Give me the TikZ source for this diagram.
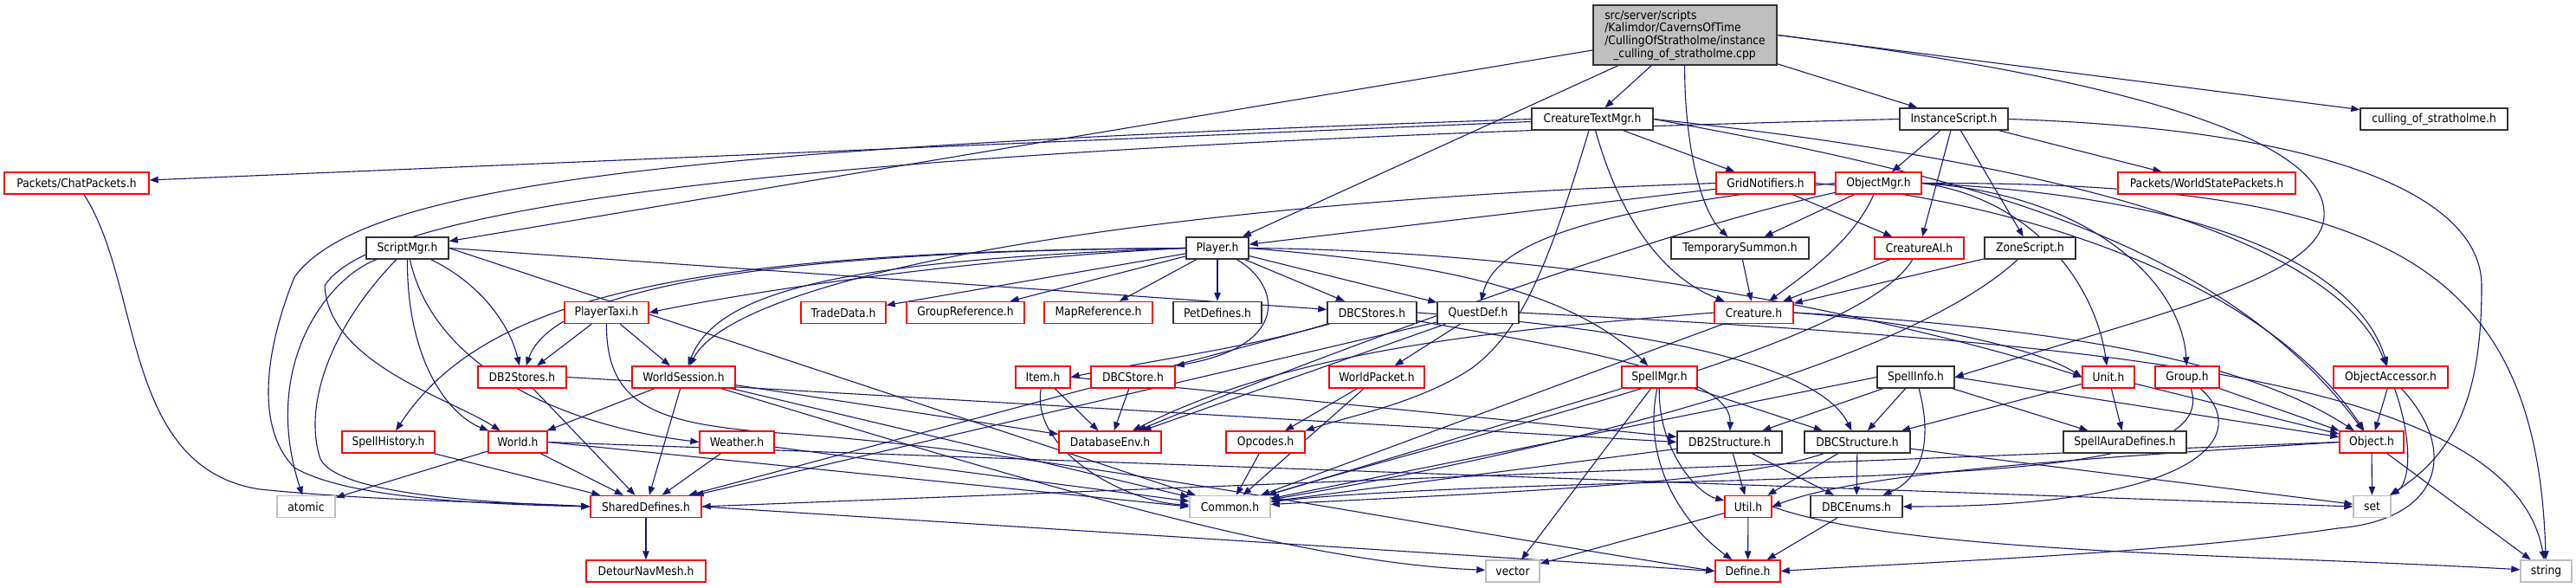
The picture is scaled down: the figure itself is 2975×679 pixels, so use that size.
\documentclass[tikz,border=0pt]{standalone}
\usepackage{fontspec}
\setmainfont{DejaVu Sans}[FakeStretch=0.9]
\usetikzlibrary{arrows.meta}
\pgfdeclarelayer{back}
\pgfdeclarelayer{bg}
\pgfsetlayers{back,bg,main}
\definecolor{edgec}{HTML}{191970}
\definecolor{redb}{HTML}{FF0000}
\definecolor{grayb}{HTML}{BFBFBF}
\definecolor{mainfill}{HTML}{BFBFBF}
\tikzset{
 nd/.style={rectangle, draw=black!80, line width=1.4pt, minimum height=25pt, inner sep=0pt, fill=white, text=black, font=\fontsize{13.7}{14.7}\selectfont},
 rd/.style={nd, draw=redb},
 gy/.style={nd, draw=grayb},
 e/.style={draw=edgec, line width=1.1pt, -{Triangle[length=10pt,width=7.5pt]}},
}
\begin{document}
\begin{tikzpicture}[x=1pt,y=-1pt]
\useasboundingbox (0,0) rectangle (2975,679);
\begin{pgfonlayer}{back}
\fill[white] (0,0) rectangle (2975,679);
\end{pgfonlayer}
% row 0
\node[nd, fill=mainfill, minimum width=212pt, minimum height=69pt, align=left] (main) at (1946,40.5) {src/server/scripts\\/Kalimdor/CavernsOfTime\\/CullingOfStratholme/instance\\\hspace*{10pt}\_culling\_of\_stratholme.cpp};
% row 1
\node[nd, minimum width=140pt] (ctm) at (1839,137.5) {CreatureTextMgr.h};
\node[nd, minimum width=125pt] (inst) at (2256.5,137.5) {InstanceScript.h};
\node[nd, minimum width=170pt] (cull) at (2811,137.5) {culling\_of\_stratholme.h};
% row 2
\node[rd, minimum width=167pt] (chat) at (88.5,211.5) {Packets/ChatPackets.h};
\node[rd, minimum width=114pt] (grid) at (2039,211.5) {GridNotifiers.h};
\node[rd, minimum width=99pt] (omgr) at (2169.5,211.5) {ObjectMgr.h};
\node[rd, minimum width=205pt] (wsp) at (2548.5,211.5) {Packets/WorldStatePackets.h};
% row 3
\node[nd, minimum width=95pt] (smgr) at (470.5,286.5) {ScriptMgr.h};
\node[nd, minimum width=72pt] (player) at (1406,286.5) {Player.h};
\node[nd, minimum width=159pt] (tsum) at (2009.5,286.5) {TemporarySummon.h};
\node[rd, minimum width=103pt] (cai) at (2216.5,286.5) {CreatureAI.h};
\node[nd, minimum width=105pt] (zone) at (2344.5,286.5) {ZoneScript.h};
% row 4
\node[rd, minimum width=97pt] (ptaxi) at (700.5,361) {PlayerTaxi.h};
\node[rd, minimum width=98pt] (trade) at (974,361) {TradeData.h};
\node[rd, minimum width=136pt] (gref) at (1115,361) {GroupReference.h};
\node[rd, minimum width=125pt] (mref) at (1268.5,361) {MapReference.h};
\node[nd, minimum width=102pt] (pet) at (1406,361) {PetDefines.h};
\node[nd, minimum width=103pt] (dbcs) at (1584.5,361) {DBCStores.h};
\node[nd, minimum width=94pt] (quest) at (1707,361) {QuestDef.h};
\node[rd, minimum width=91pt] (creat) at (2025.5,361) {Creature.h};
% row 5
\node[rd, minimum width=102pt] (db2s) at (603,435.5) {DB2Stores.h};
\node[rd, minimum width=119pt] (wses) at (789.5,435.5) {WorldSession.h};
\node[rd, minimum width=63pt] (item) at (1204.5,435.5) {Item.h};
\node[rd, minimum width=97pt] (dbcstore) at (1308.5,435.5) {DBCStore.h};
\node[rd, minimum width=110pt] (wpkt) at (1590,435.5) {WorldPacket.h};
\node[rd, minimum width=87pt] (smgr2) at (1916.5,435.5) {SpellMgr.h};
\node[nd, minimum width=89pt] (sinfo) at (2212.5,435.5) {SpellInfo.h};
\node[rd, minimum width=60pt] (unit) at (2435,435.5) {Unit.h};
\node[rd, minimum width=74pt] (group) at (2526,435.5) {Group.h};
\node[rd, minimum width=132pt] (oacc) at (2761,435.5) {ObjectAccessor.h};
% row 6
\node[rd, minimum width=107pt] (shist) at (448.5,510.5) {SpellHistory.h};
\node[rd, minimum width=68pt] (world) at (598,510.5) {World.h};
\node[rd, minimum width=86pt] (weather) at (851,510.5) {Weather.h};
\node[rd, minimum width=118pt] (dbenv) at (1282,510.5) {DatabaseEnv.h};
\node[rd, minimum width=91pt] (opc) at (1461.5,510.5) {Opcodes.h};
\node[nd, minimum width=121pt] (db2st) at (1997.5,510.5) {DB2Structure.h};
\node[nd, minimum width=122pt] (dbcst) at (2145,510.5) {DBCStructure.h};
\node[nd, minimum width=142pt] (sad) at (2454,510.5) {SpellAuraDefines.h};
\node[rd, minimum width=74pt] (obj) at (2739,510.5) {Object.h};
% row 7
\node[gy, minimum width=67pt] (atomic) at (353.5,585) {atomic};
\node[rd, minimum width=128pt] (shared) at (746,585) {SharedDefines.h};
\node[gy, minimum width=93pt] (common) at (1420.5,585) {Common.h};
\node[rd, minimum width=54pt] (util) at (2019,585) {Util.h};
\node[nd, minimum width=106pt] (dbce) at (2144,585) {DBCEnums.h};
\node[gy, minimum width=43pt] (set) at (2739.5,585) {set};
% row 8
\node[rd, minimum width=138pt] (detour) at (746,659.5) {DetourNavMesh.h};
\node[gy, minimum width=62pt] (vector) at (1747,659.5) {vector};
\node[rd, minimum width=75pt] (define) at (2018.5,659.5) {Define.h};
\node[gy, minimum width=59pt] (string) at (2940.5,659.5) {string};

\begin{pgfonlayer}{bg}
% main
\draw[e] (main) -- (smgr);
\draw[e] (main) -- (player);
\draw[e] (main) -- (ctm);
\draw[e] (main) .. controls (1945,150) and (1960,240) .. (tsum);
\draw[e] (main) -- (inst);
\draw[e] (main.east) -- (cull);
\draw[e] (main.east) .. controls (2450,90) and (2690,160) .. (2684,250) .. controls (2680,320) and (2500,360) .. (sinfo.east);
% CreatureTextMgr
\draw[e] (ctm) -- (chat);
\draw[e] (ctm.west) .. controls (800,170) and (420,210) .. (340,320) .. controls (300,420) and (300,500) .. (340,540) .. controls (400,575) and (550,582) .. (shared.west);
\draw[e] (ctm) -- (grid);
\draw[e] (ctm) .. controls (1870,250) and (1920,320) .. (creat);
\draw[e] (ctm) .. controls (1790,300) and (1760,380) .. (1700,425) .. controls (1640,465) and (1560,480) .. (opc.north east);
\draw[e] (ctm.east) .. controls (2400,190) and (2700,280) .. (oacc);
\draw[e] (ctm.east) .. controls (2250,200) and (2560,270) .. (obj);
% InstanceScript
\draw[e] (inst) -- (omgr);
\draw[e] (inst) -- (cai);
\draw[e] (inst) -- (zone);
\draw[e] (inst) -- (wsp);
\draw[e] (inst.east) .. controls (2700,150) and (2866,230) .. (2866,330) .. controls (2866,450) and (2840,520) .. (set);
\draw[e] (inst.west) .. controls (900,170) and (430,240) .. (375,330) .. controls (380,420) and (520,460) .. (world);
% GridNotifiers
\draw[e] (grid) -- (player);
\draw[e] (grid.west) .. controls (1300,235) and (850,320) .. (wses);
\draw[e] (grid) -- (cai);
\draw[e] (grid.east) .. controls (2350,235) and (2620,330) .. (obj);
% ObjectMgr
\draw[e] (omgr) -- (tsum);
\draw[e] (omgr) .. controls (2140,280) and (2080,320) .. (creat);
\draw[e] (omgr.west) .. controls (1800,245) and (1725,290) .. (quest);
\draw[e] (omgr) .. controls (1900,270) and (1500,420) .. (dbenv);
\draw[e] (omgr.east) .. controls (2350,230) and (2420,330) .. (unit);
\draw[e] (omgr.east) .. controls (2420,225) and (2520,330) .. (group);
\draw[e] (omgr.east) .. controls (2600,230) and (2730,330) .. (oacc);
\draw[e] (omgr.east) .. controls (2750,210) and (2930,300) .. (string);
% ScriptMgr
\draw[e] (smgr) .. controls (380,320) and (300,420) .. (atomic);
\draw[e] (smgr) .. controls (380,380) and (350,470) .. (370,530) .. controls (390,570) and (550,580) .. (shared.west);
\draw[e] (smgr) .. controls (470,420) and (520,480) .. (world);
\draw[e] (smgr) .. controls (500,420) and (640,490) .. (weather.west);
\draw[e] (smgr.east) -- (dbcs);
\draw[e] (smgr) .. controls (560,330) and (590,380) .. (db2s);
\draw[e] (smgr.east) -- (common);
% Player
\draw[e] (player) -- (trade);
\draw[e] (player) -- (gref);
\draw[e] (player) -- (mref);
\draw[e] (player) -- (pet);
\draw[e] (player.west) .. controls (1100,300) and (850,340) .. (ptaxi.east);
\draw[e] (player.west) .. controls (1000,300) and (830,330) .. (wses);
\draw[e] (player.west) .. controls (900,290) and (640,330) .. (db2s);
\draw[e] (player.west) .. controls (800,290) and (560,340) .. (shist);
\draw[e] (player) -- (dbcs);
\draw[e] (player) -- (quest);
\draw[e] (player.east) .. controls (1600,300) and (1800,320) .. (smgr2);
\draw[e] (player) .. controls (1480,330) and (1490,400) .. (dbcstore.north east);
\draw[e] (player.east) .. controls (1900,290) and (2300,400) .. (unit.west);
% PlayerTaxi
\draw[e] (ptaxi) -- (db2s);
\draw[e] (ptaxi) -- (wses);
\draw[e] (ptaxi) .. controls (700,470) and (760,490) .. (900,500) .. controls (1200,520) and (1600,600) .. (define.west);
% WorldSession
\draw[e] (wses) -- (world);
\draw[e] (wses) -- (shared);
\draw[e] (wses) -- (dbenv);
\draw[e] (wses) -- (common);
\draw[e] (wses) .. controls (1200,560) and (1500,650) .. (vector);
% DB2Stores etc
\draw[e] (db2s) -- (shared);
\draw[e] (db2s.east) -- (db2st.west);
\draw[e] (shist) -- (shared);
\draw[e] (world) -- (atomic);
\draw[e] (world) -- (shared);
\draw[e] (world.east) -- (common.west);
\draw[e] (world.east) -- (set.west);
\draw[e] (weather) -- (shared);
\draw[e] (weather) -- (common);
% Item / DBCStore / DBCStores
\draw[e] (item) -- (dbenv);
\draw[e] (item) .. controls (1190,520) and (1300,580) .. (common);
\draw[e] (item.east) -- (db2st);
\draw[e] (dbcstore) -- (dbenv);
\draw[e] (dbcs.south west) .. controls (1450,400) and (1330,416) .. (item.east);
\draw[e] (dbcs) -- (shared);
\draw[e] (dbcs) .. controls (1800,400) and (2000,430) .. (db2st);
\draw[e] (dbcs.east) .. controls (1900,380) and (2100,420) .. (dbcst);
% QuestDef
\draw[e] (quest) -- (wpkt);
\draw[e] (quest) -- (dbenv);
\draw[e] (quest) -- (shared);
\draw[e] (quest.east) .. controls (2400,395) and (2900,430) .. (string);
% WorldPacket / Opcodes
\draw[e] (wpkt) -- (opc);
\draw[e] (wpkt) -- (common);
\draw[e] (opc) -- (common);
% Creature
\draw[e] (creat.east) .. controls (2200,370) and (2350,400) .. (unit.west);
\draw[e] (creat.west) .. controls (1750,380) and (1500,400) .. (dbenv);
\draw[e] (creat) -- (common);
\draw[e] (creat.east) .. controls (2400,380) and (2600,420) .. (obj);
% CreatureAI / ZoneScript / TemporarySummon
\draw[e] (cai) -- (creat);
\draw[e] (cai) .. controls (2150,400) and (1700,500) .. (common);
\draw[e] (zone) -- (creat);
\draw[e] (zone) .. controls (2200,420) and (1800,520) .. (common);
\draw[e] (tsum) -- (creat);
% SpellMgr
\draw[e] (smgr2) -- (vector);
\draw[e] (smgr2) .. controls (1915,520) and (1960,570) .. (util);
\draw[e] (smgr2) .. controls (1895,540) and (1950,610) .. (define);
\draw[e] (smgr2) -- (dbcst);
\draw[e] (smgr2) -- (common);
% SpellInfo
\draw[e] (sinfo) -- (db2st);
\draw[e] (sinfo) -- (dbcst);
\draw[e] (sinfo) .. controls (2230,500) and (2225,550) .. (dbce);
\draw[e] (sinfo) -- (sad);
\draw[e] (sinfo.east) -- (obj);
\draw[e] (sinfo.west) -- (common);
% DB2Structure / DBCStructure
\draw[e] (db2st) -- (common);
\draw[e] (db2st) -- (util);
\draw[e] (db2st) -- (dbce);
\draw[e] (dbcst) -- (util);
\draw[e] (dbcst) -- (dbce);
\draw[e] (dbcst) .. controls (2000,560) and (1700,570) .. (common);
\draw[e] (dbcst) -- (set);
% Util / DBCEnums
\draw[e] (util) -- (define);
\draw[e] (util) -- (vector);
\draw[e] (util.east) .. controls (2200,640) and (2600,640) .. (string);
\draw[e] (dbce) -- (define);
% Unit / Group / ObjectAccessor / Object
\draw[e] (unit) -- (sad);
\draw[e] (unit) -- (obj);
\draw[e] (unit) -- (dbcst);
\draw[e] (group) -- (obj);
\draw[e] (group) .. controls (2600,500) and (2550,585) .. (dbce.east);
\draw[e] (group) .. controls (2560,540) and (2300,545) .. (2000,555) .. controls (1700,562) and (1550,570) .. (common);
\draw[e] (oacc) -- (obj);
\draw[e] (oacc) .. controls (2790,520) and (2780,560) .. (set);
\draw[e] (oacc) .. controls (2840,520) and (2820,600) .. (2700,610) .. controls (2500,640) and (2200,650) .. (define.east);
\draw[e] (obj) -- (set);
\draw[e] (obj) -- (string);
\draw[e] (obj.west) .. controls (2400,530) and (2150,545) .. (util.east);
\draw[e] (obj.west) -- (shared.east);
% SharedDefines / ChatPackets
\draw[e] (shared) -- (detour);
\draw[e] (shared.east) -- (define.west);
\draw[e] (chat) .. controls (165,330) and (140,540) .. (300,565) .. controls (450,580) and (600,580) .. (shared.west);
\end{pgfonlayer}
\end{tikzpicture}
\end{document}
